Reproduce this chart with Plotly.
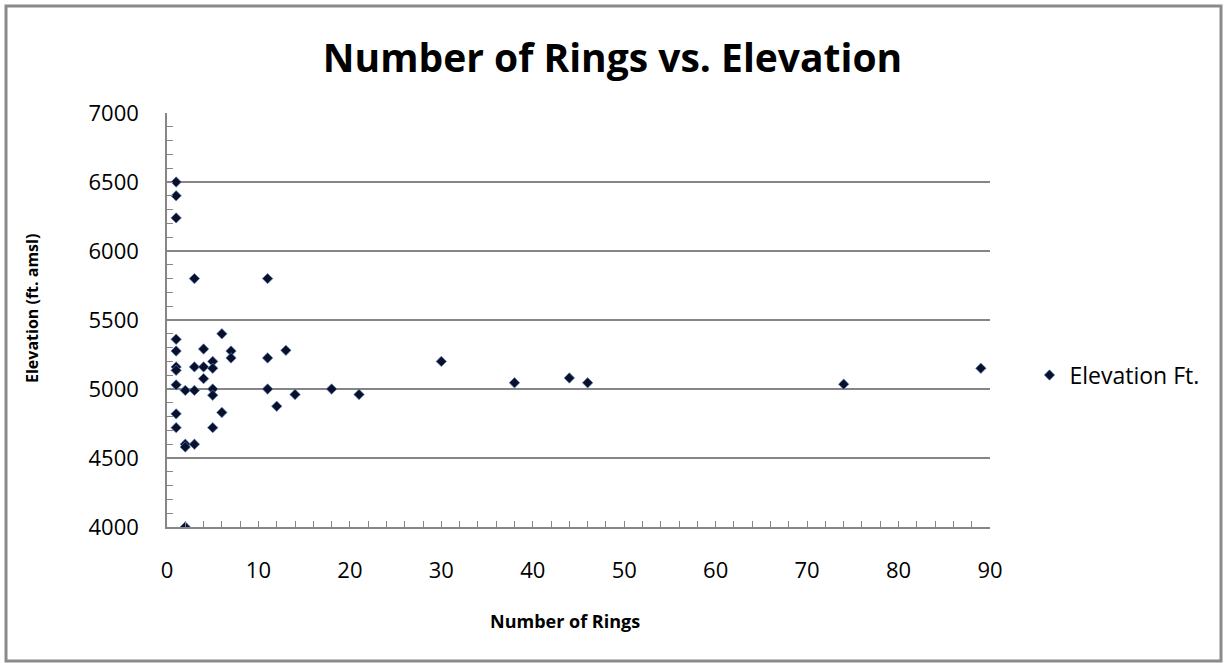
import plotly.graph_objects as go

rings = [1, 1, 1, 3, 11, 6, 1, 1, 4, 7, 7, 1, 1, 3, 4, 5, 5, 4, 1, 2, 3, 5, 5,
         1, 6, 1, 5, 2, 2, 3, 2, 11, 13, 11, 12, 14, 18, 21, 30, 38, 44, 46, 74, 89]
elevation = [6500, 6400, 6240, 5800, 5800, 5400, 5360, 5275, 5290, 5275, 5225,
             5160, 5135, 5160, 5160, 5200, 5150, 5075, 5030, 4990, 4990, 5000,
             4955, 4820, 4830, 4720, 4720, 4600, 4580, 4600, 4000, 5225, 5280,
             5000, 4875, 4960, 5000, 4960, 5200, 5045, 5080, 5045, 5035, 5150]

title_text = "Number of Rings vs. Elevation"
x_title = "Number of Rings"
y_title = "Elevation (ft. amsl)"
series_name = "Elevation Ft."

FONT = "Open Sans"
GRID = "#868686"

fig = go.Figure()
fig.add_trace(go.Scatter(
    x=rings, y=elevation, mode="markers", name=series_name,
    marker=dict(symbol="diamond", size=8, color="#0b0f2a",
                line=dict(color="rgba(79,129,189,0.7)", width=1)),
))

fig.update_layout(
    width=1225, height=663,
    margin=dict(l=167, r=235, t=113, b=136),
    paper_bgcolor="white", plot_bgcolor="white",
    font=dict(family=FONT, color="black", size=20),
    title=dict(text="<b>" + title_text + "</b>", x=0.5, xref="container", xanchor="center",
               y=1 - 58 / 663, yref="container", yanchor="middle",
               font=dict(family=FONT, size=39, color="black")),
    showlegend=True,
    legend=dict(x=1.048, y=0.367, xanchor="left", yanchor="middle",
                font=dict(family=FONT, size=23, color="black"),
                bgcolor="rgba(0,0,0,0)"),
    xaxis=dict(range=[0, 90], dtick=10, tick0=0, showgrid=False, zeroline=False,
               showline=True, linecolor=GRID, linewidth=1.5,
               ticks="inside", ticklen=6, tickcolor=GRID,
               minor=dict(dtick=2, ticks="inside", ticklen=6, tickcolor=GRID, showgrid=False),
               ticklabelstandoff=23,
               tickfont=dict(family=FONT, size=22, color="black")),
    yaxis=dict(range=[4000, 7000], dtick=500, tick0=4000, showgrid=True, gridcolor=GRID,
               gridwidth=1.5, zeroline=False,
               showline=True, linecolor=GRID, linewidth=1.5,
               ticks="inside", ticklen=6, tickcolor=GRID,
               minor=dict(dtick=100, ticks="inside", ticklen=6, tickcolor=GRID, showgrid=False),
               ticklabelstandoff=22,
               tickfont=dict(family=FONT, size=22, color="black")),
)

fig.add_annotation(text="<b>" + x_title + "</b>", xref="paper", yref="paper",
                   x=(565 - 167) / 823, y=(527 - 621) / 414, showarrow=False,
                   xanchor="center", yanchor="middle",
                   font=dict(family=FONT, size=18, color="black"))
fig.add_annotation(text="<b>" + y_title + "</b>", xref="paper", yref="paper",
                   x=(32 - 167) / 823, y=(527 - 309) / 414, showarrow=False, textangle=-90,
                   xanchor="center", yanchor="middle",
                   font=dict(family=FONT, size=16, color="black"))

# outer chart border
fig.add_shape(type="rect", xref="paper", yref="paper",
              x0=(6 - 167) / 823, x1=(1221 - 167) / 823,
              y0=(527 - 661) / 414, y1=(527 - 6) / 414,
              line=dict(color="#8a8a8a", width=3), layer="below")

fig.write_html("out.html", config={"displayModeBar": False},
               post_script="document.body.style.margin='0';document.body.style.overflow='hidden';")
